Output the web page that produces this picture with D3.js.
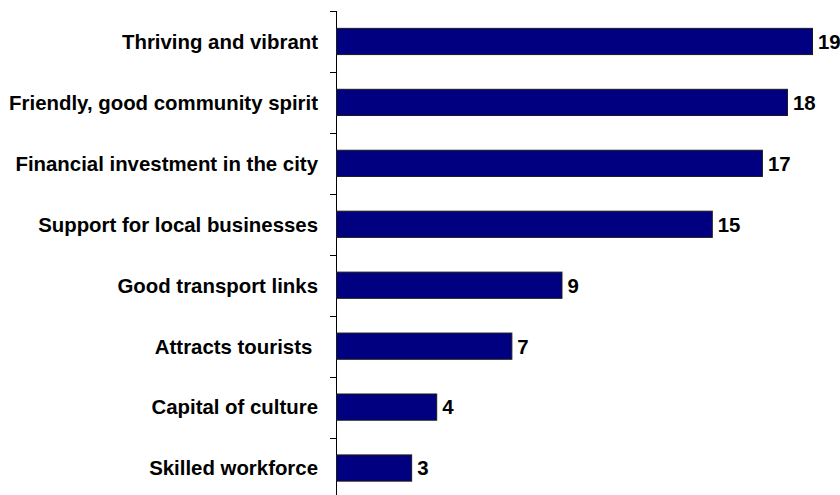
<!DOCTYPE html>
<html>
<head>
<meta charset="utf-8">
<script src="https://cdn.jsdelivr.net/npm/d3@7"></script>
<style>
  html, body { margin: 0; padding: 0; background: #fff; }
  svg { display: block; }
  text { font-family: "Liberation Sans", Arial, sans-serif; font-weight: bold; fill: #000; }
</style>
</head>
<body>
<svg id="chart" width="840" height="495"></svg>
<script>
// Reasons people gave, top to bottom, with their scores
const categories = [
  "Thriving and vibrant",
  "Friendly, good community spirit",
  "Financial investment in the city",
  "Support for local businesses",
  "Good transport links",
  "Attracts tourists ",
  "Capital of culture",
  "Skilled workforce"
];
const values = [19, 18, 17, 15, 9, 7, 4, 3];

const svg = d3.select("#chart");

const x = d3.scaleLinear().domain([0, 19]).range([336, 812]);
const y = d3.scaleBand().domain(categories).range([11, 498.5]).paddingInner(0.57).paddingOuter(0.285);

// Category axis on the left, with ticks between the bars
const axisX = 336;
const step = y.step();
const y0 = y.range()[0];
const g = svg.append("g");
g.append("line")
  .attr("x1", axisX + 0.5).attr("x2", axisX + 0.5)
  .attr("y1", y0).attr("y2", 520)
  .attr("stroke", "#000").attr("stroke-width", 1);
g.selectAll("line.tick")
  .data(d3.range(categories.length + 1))
  .join("line")
  .attr("class", "tick")
  .attr("x1", axisX - 6).attr("x2", axisX + 0.5)
  .attr("y1", i => Math.round(y0 + i * step) + 0.5)
  .attr("y2", i => Math.round(y0 + i * step) + 0.5)
  .attr("stroke", "#000").attr("stroke-width", 1);

const fs = 20.4;

// Category labels
svg.append("g").selectAll("text")
  .data(categories)
  .join("text")
  .attr("x", 318)
  .attr("y", d => y(d) + y.bandwidth() / 2 + fs * 0.36)
  .attr("text-anchor", "end")
  .attr("font-size", fs)
  .style("white-space", "pre")
  .text(d => d);

// Bars
svg.append("g").selectAll("rect")
  .data(values)
  .join("rect")
  .attr("x", x(0) + 0.5)
  .attr("y", (d, i) => y(categories[i]))
  .attr("width", d => x(d) - x(0))
  .attr("height", y.bandwidth())
  .attr("fill", "#000080")
  .attr("stroke", "#1a1a1a")
  .attr("stroke-width", 1);

// Value labels at the bar ends
svg.append("g").selectAll("text")
  .data(values)
  .join("text")
  .attr("x", d => x(d) + 6)
  .attr("y", (d, i) => y(categories[i]) + y.bandwidth() / 2 + fs * 0.36)
  .attr("font-size", fs)
  .text(d => d);
</script>
</body>
</html>
